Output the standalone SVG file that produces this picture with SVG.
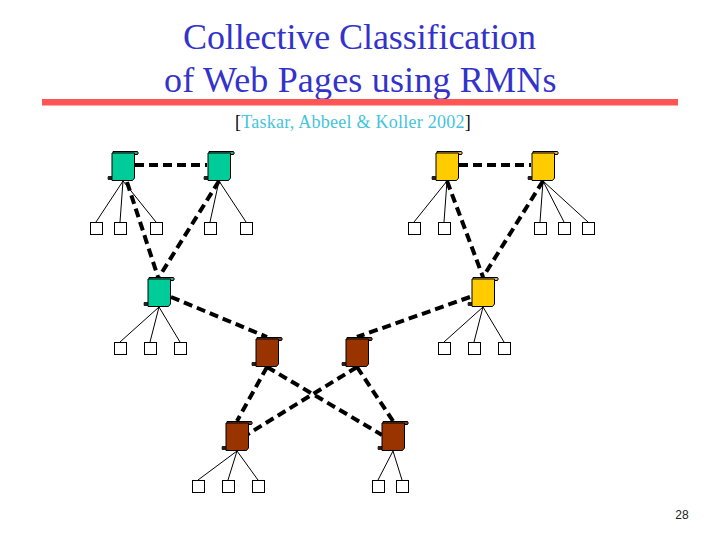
<svg xmlns="http://www.w3.org/2000/svg" width="720" height="540" viewBox="0 0 720 540">
<style>
.title{font:36px "Liberation Serif",serif;fill:#3333cc}
.ref{font:18px "Liberation Serif",serif;fill:#44c4dc;letter-spacing:.25px}
.ref tspan{fill:#000}
.num{font:12px "Liberation Sans",sans-serif;fill:#222;text-anchor:middle}
.dash{stroke:#000;stroke-width:4;stroke-dasharray:9 5;fill:none}
.thin{stroke:#000;stroke-width:1;fill:none}
.leaf{fill:#fff;stroke:#000;stroke-width:1}
.body{stroke:#000;stroke-width:1;fill:var(--b)}
.top{stroke:#000;stroke-width:1;fill:var(--t)}
.g{--b:#00cc99;--t:#2f9f7f}
.y{--b:#ffcc00;--t:#e6ac50}
.b{--b:#993300;--t:#7a3a20}
</style>
<defs>
<g id="scroll">
<path d="M-3 25H2V29H-3Q-4 27-3 25Z" fill="#222"/>
<path class="top" d="M2 0.5H26.500Q28 2 26.500 3.500H2Z"/>
<path class="body" d="M1 2H23.500V27L21.500 29.500H1Z"/>
</g>
<rect id="sq" class="leaf" width="12" height="12"/>
</defs>
<text class="title" x="183" y="49" letter-spacing="-.08">Collective Classification</text>
<text class="title" x="164" y="91.500" letter-spacing=".18">of Web Pages using RMNs</text>
<rect x="42" y="99" width="636" height="6.5" fill="#ff5555"/>
<text class="ref" x="235" y="128"><tspan>[</tspan>Taskar, Abbeel &amp; Koller 2002<tspan>]</tspan></text>
<g id="connectors">
<path class="thin" d="M123 181L96 222M123 181L120 222M123 181L156 222M219 181L210 222M219 181L246 222M447 181L414 222M447 181L444 222M543 181L540 222M543 181L564 222M543 181L588 222M159 307L120 342M159 307L150 342M159 307L180 342M483 307L444 342M483 307L474 342M483 307L504 342M237 451L198 480M237 451L228 480M237 451L258 480M393 451L378 480M393 451L402 480"/>
<path class="dash" d="M135 165H207M459 165H531M127 182L158 277M219 181L159 277M447 181L483 277M543 181L483 277M171 297L267 337M470 297L357 337M267 367L237 421M267 367L382 435M357 367L248 434M357 367L393 421"/>
</g>
<g id="n1" class="g"><use href="#scroll" x="111" y="151"/></g>
<g id="n2" class="g"><use href="#scroll" x="207" y="151"/></g>
<g id="n3" class="g"><use href="#scroll" x="147" y="277"/></g>
<g id="n4" class="y"><use href="#scroll" x="435" y="151"/></g>
<g id="n5" class="y"><use href="#scroll" x="531" y="151"/></g>
<g id="n6" class="y"><use href="#scroll" x="471" y="277"/></g>
<g id="n7" class="b"><use href="#scroll" x="255" y="337"/></g>
<g id="n8" class="b"><use href="#scroll" x="345" y="337"/></g>
<g id="n9" class="b"><use href="#scroll" x="225" y="421"/></g>
<g id="n10" class="b"><use href="#scroll" x="381" y="421"/></g>
<g id="leaves">
<use href="#sq" x="90.500" y="222.500"/><use href="#sq" x="114.500" y="222.500"/><use href="#sq" x="150.500" y="222.500"/><use href="#sq" x="204.500" y="222.500"/><use href="#sq" x="240.500" y="222.500"/><use href="#sq" x="408.500" y="222.500"/><use href="#sq" x="438.500" y="222.500"/><use href="#sq" x="534.500" y="222.500"/><use href="#sq" x="558.500" y="222.500"/><use href="#sq" x="582.500" y="222.500"/>
<use href="#sq" x="114.500" y="342.500"/><use href="#sq" x="144.500" y="342.500"/><use href="#sq" x="174.500" y="342.500"/><use href="#sq" x="438.500" y="342.500"/><use href="#sq" x="468.500" y="342.500"/><use href="#sq" x="498.500" y="342.500"/>
<use href="#sq" x="192.500" y="480.500"/><use href="#sq" x="222.500" y="480.500"/><use href="#sq" x="252.500" y="480.500"/><use href="#sq" x="372.500" y="480.500"/><use href="#sq" x="396.500" y="480.500"/>
</g>
<text class="num" x="682" y="519">28</text>
</svg>
